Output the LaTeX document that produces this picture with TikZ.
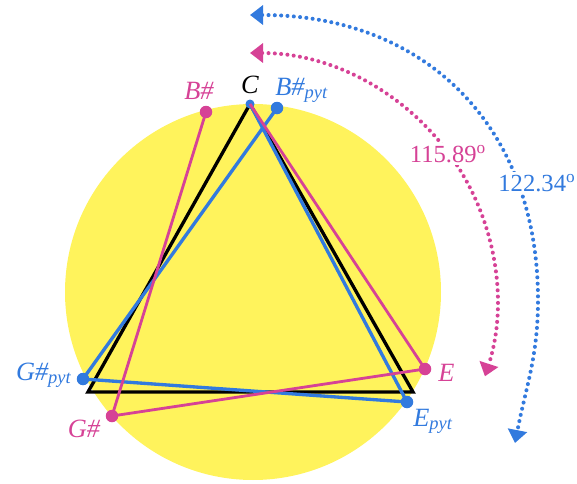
\documentclass[tikz,border=0pt]{standalone}
\usepackage{fontspec}
\setmainfont{Liberation Serif}
\usepackage{tikz}
\usetikzlibrary{arrows.meta}

\definecolor{circleyellow}{RGB}{255,243,92}
\definecolor{purepink}{RGB}{214,66,150}
\definecolor{pytblue}{RGB}{50,122,222}

\begin{document}
\begin{tikzpicture}[
    dot/.style={circle, fill, inner sep=0pt, minimum size=0.25cm},
    tri/.style={line width=1.9pt, line join=miter},
    lbl/.style={font=\fontsize{15}{17}\selectfont\itshape, inner sep=0pt, anchor=base},
    deg/.style={font=\fontsize{14}{16}\selectfont, fill=white, inner sep=1pt},
    arcline/.style={<->, >={Triangle[length=2.6mm, width=3.8mm]}, line width=2.3pt, line cap=round, dash pattern=on 0pt off 3.6pt}
]
\useasboundingbox (0,0) rectangle (11.54,9.66);

% Yellow circle
\fill[circleyellow] (5.06,3.82) circle (3.76);

% Vertices
\coordinate (C) at (5.00,7.58);
\coordinate (Gblk) at (1.76,1.82);
\coordinate (Eblk) at (8.26,1.82);
\node[dot, pytblue] (Bpyt) at (5.54,7.50) {};
\node[dot, pytblue] (Gpyt) at (1.66,2.08) {};
\node[dot, pytblue] (Epyt) at (8.14,1.62) {};
\node[dot, purepink] (Bpure) at (4.12,7.42) {};
\node[dot, purepink] (Gpure) at (2.24,1.34) {};
\node[dot, purepink] (Epure) at (8.50,2.28) {};

% Equal temperament triangle
\draw[tri, black] (C) -- (Gblk) -- (Eblk) -- cycle;

% Pythagorean thirds
\fill[pytblue] (C) circle (0.09);
\draw[tri, pytblue, line join=round] (C) -- (Epyt.center) -- (Gpyt.center) -- (Bpyt.center);

% Pure thirds
\draw[tri, purepink, line width=1.6pt, line join=round] (C) -- (Epure.center) -- (Gpure.center) -- (Bpure.center);

% Labels
\node[lbl] (lC) at (5.00,7.80) {C};
\node[lbl, purepink] (lBpure) at (3.98,7.68) {B\#};
\node[lbl, pytblue, anchor=base west] (lBpyt) at (5.50,7.76) {B\#\textsubscript{pyt}};
\node[lbl, pytblue, anchor=base east] (lGpyt) at (1.44,2.06) {G\#\textsubscript{pyt}};
\node[lbl, purepink] (lGpure) at (1.68,0.92) {G\#};
\node[lbl, purepink, anchor=base west] (lEpure) at (8.76,2.04) {E};
\node[lbl, pytblue, anchor=base west] (lEpyt) at (8.26,1.14) {E\textsubscript{pyt}};

% Angle arcs
\coordinate (pinktop) at (5.00,8.60);
\coordinate (bluetop) at (5.00,9.36);
\coordinate (blueright) at (10.76,3.66);
\coordinate (blueend) at (10.30,0.80);
\draw[arcline, purepink] (pinktop) arc[start angle=90, end angle=-18, radius=4.94];
\draw[arcline, pytblue] (bluetop) to[out=0, in=90, looseness=1.1] (blueright) to[out=-90, in=79] (blueend);
\node[deg, text=purepink] (angpure) at (8.96,6.58) {115.89\textsuperscript{o}};
\node[deg, text=pytblue] (angpyt) at (10.74,6.00) {122.34\textsuperscript{o}};

\end{tikzpicture}
\end{document}
